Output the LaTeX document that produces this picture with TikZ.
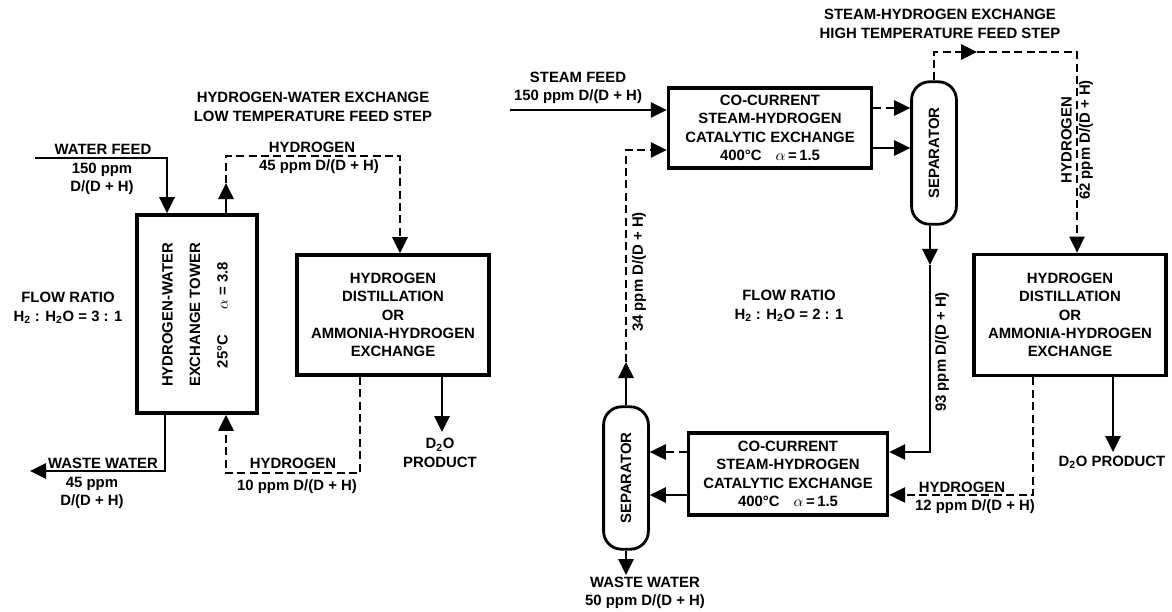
\documentclass[tikz,border=0pt]{standalone}
\usepackage{fontspec}
\setmainfont{Liberation Sans}
\usepackage{tikz}
\usetikzlibrary{arrows.meta,positioning,calc}

\begin{document}
\begin{tikzpicture}[x=0.025cm, y=-0.025cm, font=\bfseries\fontsize{10.6}{13}\selectfont]
\tikzstyle{unit}=[draw, line width=2.5pt, align=center]
\tikzstyle{vessel}=[draw, line width=2pt, rounded corners=0.45cm, minimum width=1.12cm, minimum height=3.56cm]
\tikzstyle{flow}=[line width=1.5pt, -{Triangle[width=0.38cm,length=0.4cm]}]
\tikzstyle{dashline}=[dash pattern=on 0.2cm off 0.11cm]
\tikzstyle{lbl}=[align=center, inner sep=1pt]
\useasboundingbox (0,0) rectangle (1172,612);
\node[unit, minimum width=3cm, minimum height=4.95cm] (tower) at (197,314) {};
\node[rotate=90, align=center, font=\bfseries\fontsize{10.6}{19.5}\selectfont] (towertxt) at (195,315) {HYDROGEN-WATER\\EXCHANGE TOWER\\25°C\hspace{18pt}$\alpha$ = 3.8};
\node[unit, minimum width=4.8cm, minimum height=3cm] (distL) at (393,315) {HYDROGEN\\DISTILLATION\\OR\\AMMONIA-HYDROGEN\\EXCHANGE};
\node[unit, minimum width=5.07cm, minimum height=2cm] (catTop) at (770,128) {CO-CURRENT\\STEAM-HYDROGEN\\CATALYTIC EXCHANGE\\400°C\hspace{10pt}$\alpha$\,=\,1.5};
\node[unit, minimum width=4.97cm, minimum height=2.05cm] (catBot) at (788,474) {CO-CURRENT\\STEAM-HYDROGEN\\CATALYTIC EXCHANGE\\400°C\hspace{10pt}$\alpha$\,=\,1.5};
\node[unit, minimum width=4.8cm, minimum height=3.03cm] (distR) at (1070,315) {HYDROGEN\\DISTILLATION\\OR\\AMMONIA-HYDROGEN\\EXCHANGE};
\node[vessel, label={[rotate=90]center:SEPARATOR}] (sepTop) at (934,153) {};
\node[vessel, label={[rotate=90]center:SEPARATOR}] (sepBot) at (626,478) {};
\node[lbl] (title1) at (313,107) {HYDROGEN-WATER EXCHANGE\\LOW TEMPERATURE FEED STEP};
\node[lbl] (title2) at (940,24) {STEAM-HYDROGEN EXCHANGE\\HIGH TEMPERATURE FEED STEP};
\node[lbl] (wfeed) at (103,149) {WATER FEED};
\node[lbl] (wfeedppm) at (102,179) {150 ppm\\D/(D + H)};
\node[lbl] (h45) at (312,147) {HYDROGEN};
\node[lbl] (h45ppm) at (319,167) {45 ppm D/(D + H)};
\node[lbl] (flowL) at (68,308) {FLOW RATIO\\H\textsubscript{2} : H\textsubscript{2}O = 3 : 1};
\node[lbl] (wasteL) at (103,463) {WASTE WATER};
\node[lbl] (wasteLppm) at (92,493) {45 ppm\\D/(D + H)};
\node[lbl] (h10) at (293,463) {HYDROGEN};
\node[lbl] (h10ppm) at (297,487) {10 ppm D/(D + H)};
\node[lbl] (d2oL) at (440,453) {D\textsubscript{2}O\\PRODUCT};
\node[lbl] (sfeed) at (578,88) {STEAM FEED\\150 ppm D/(D + H)};
\node[lbl, rotate=90] (p34) at (639,272) {34 ppm D/(D + H)};
\node[lbl] (flowM) at (789,306) {FLOW RATIO\\H\textsubscript{2} : H\textsubscript{2}O = 2 : 1};
\node[lbl, rotate=90] (p62) at (1077,140) {HYDROGEN\\62 ppm D/(D + H)};
\node[lbl, rotate=90] (p93) at (942,352) {93 ppm D/(D + H)};
\node[lbl] (h12) at (962,487) {HYDROGEN};
\node[lbl] (h12ppm) at (975,507) {12 ppm D/(D + H)};
\node[lbl] (d2oR) at (1112,462) {D\textsubscript{2}O PRODUCT};
\node[lbl] (wasteR) at (645,593) {WASTE WATER\\50 ppm D/(D + H)};
\coordinate (wf) at (35,158);
\coordinate (h45tip) at (226,183);
\coordinate (h45turn) at (400,156);
\coordinate (h10turn) at (226,473);
\coordinate (ww) at (30,471);
\coordinate (d2oLtip) at (442,432);
\coordinate (sf) at (510,110);
\coordinate (p34tip) at (626,362);
\coordinate (p62tip) at (977,52);
\coordinate (p93tip) at (930,265);
\coordinate (d2oRtip) at (1113,452);
\coordinate (wwtip) at (626,575);
\coordinate (ct1) at ($(catTop.east)+(0,-20)$);
\coordinate (ct2) at ($(catTop.east)+(0,20)$);
\coordinate (cb1) at ($(catBot.west)+(0,-22)$);
\coordinate (cb2) at ($(catBot.west)+(0,21)$);
\draw[flow] (wf) -| ($(tower.north)+(-30,0)$);
\draw[flow] ($(tower.north)+(29,0)$) -- (h45tip);
\draw[flow, dashline] (h45tip) |- (h45turn) -- (h45turn |- distL.north);
\draw[flow, dashline] ($(distL.south)+(-33,0)$) |- (h10turn) -- ($(tower.south)+(29,0)$);
\draw[flow] ($(tower.south)+(-32,0)$) |- (ww);
\draw[flow] (d2oLtip |- distL.south) -- (d2oLtip);
\draw[flow] (sf) -- (sf -| catTop.west);
\draw[flow] (sepBot.north) -- (p34tip);
\draw[flow, dashline] (p34tip) |- ($(catTop.west)+(0,22)$);
\draw[flow, dashline] (ct1) -- (ct1 -| sepTop.west);
\draw[flow] (ct2) -- (ct2 -| sepTop.west);
\draw[flow, dashline] (sepTop.north) |- (p62tip);
\draw[flow, dashline] (p62tip) -| ($(distR.north)+(7,0)$);
\draw[flow] (p93tip |- sepTop.south) -- (p93tip);
\draw[flow] (p93tip) |- ($(catBot.east)+(0,-22)$);
\draw[flow, dashline] ($(distR.south)+(-37,0)$) |- ($(catBot.east)+(0,21)$);
\draw[flow, dashline] (cb1) -- (cb1 -| sepBot.east);
\draw[flow] (cb2) -- (cb2 -| sepBot.east);
\draw[flow] (sepBot.south) -- (wwtip);
\draw[flow] (d2oRtip |- distR.south) -- (d2oRtip);
\end{tikzpicture}
\end{document}
